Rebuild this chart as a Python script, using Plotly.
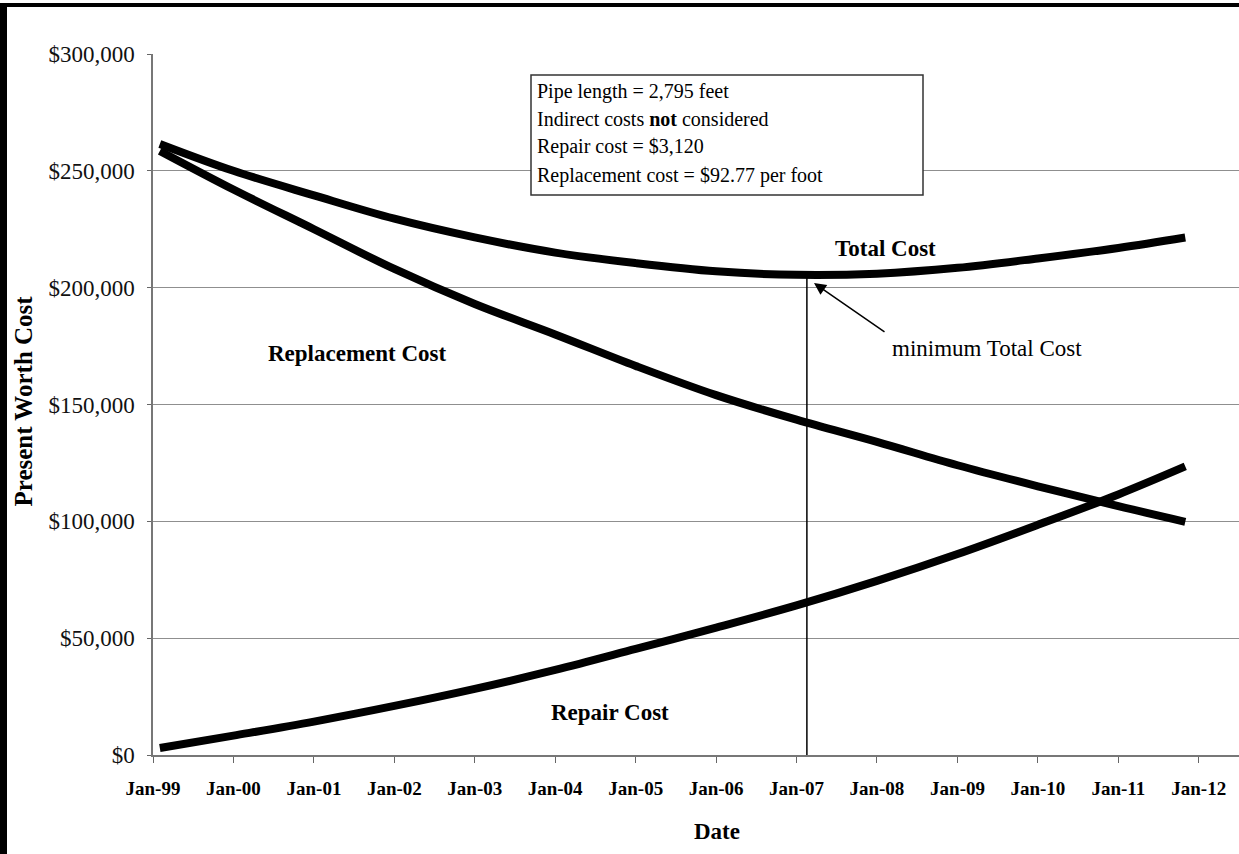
import plotly.graph_objects as go

# ---- data ----
dates = ["1999-02-01", "2000-01-01", "2001-01-01", "2002-01-01", "2003-01-01",
         "2004-01-01", "2005-01-01", "2006-01-01", "2007-01-01", "2008-01-01",
         "2009-01-01", "2010-01-01", "2011-01-01", "2011-11-01"]
replacement_cost = [258500, 242000, 225000, 208000, 193000, 180000, 166500,
                    154000, 143500, 134000, 124000, 115000, 106500, 99800]
repair_cost = [3000, 8300, 14300, 21000, 28300, 36400, 45400,
               54500, 64000, 74500, 86000, 98500, 111500, 123500]
total_cost = [261500, 250000, 239500, 229500, 221500, 215000, 210500,
              207000, 205500, 206000, 208500, 212500, 217000, 221500]

y_ticks = [0, 50000, 100000, 150000, 200000, 250000, 300000]
min_date = "2007-02-17"
min_total = 205000

info_lines = ["Pipe length = 2,795 feet",
              "Indirect costs <b>not</b> considered",
              "Repair cost = $3,120",
              "Replacement cost = $92.77 per foot"]

# ---- layout geometry (reference-image pixels) ----
W, H = 1239, 854
PLOT_LEFT, PLOT_TOP, PLOT_BOTTOM = 153, 54, 755
L, T, B, R = PLOT_LEFT, PLOT_TOP, H - PLOT_BOTTOM, 0
PW, PH = W - L - R, H - T - B


def px(x):
    return (x - PLOT_LEFT) / PW


def py(y):
    return (PLOT_BOTTOM - y) / PH


SERIF = "Liberation Serif"

fig = go.Figure()
for vals in (total_cost, replacement_cost, repair_cost):
    fig.add_trace(go.Scatter(x=dates, y=vals, mode="lines",
                             line=dict(color="black", width=8, shape="spline"),
                             showlegend=False, hoverinfo="skip"))

fig.update_layout(
    width=W, height=H, autosize=False,
    margin=dict(l=L, r=R, t=T, b=B, pad=0),
    paper_bgcolor="white", plot_bgcolor="white",
    font=dict(family=SERIF, color="black"),
    showlegend=False,
)

fig.update_xaxes(
    type="date", range=["1999-01-01", "2012-07-02"],
    tick0="1999-01-01", dtick="M12", tickformat="%b-%y",
    ticks="outside", ticklen=6, tickcolor="#666", tickwidth=1,
    tickfont=dict(family=SERIF, size=19, color="black", weight="bold"),
    ticklabelstandoff=9,
    showgrid=False, showline=True, linecolor="#777", linewidth=1.5,
    zeroline=False,
)
fig.update_yaxes(
    range=[0, 300000], tickvals=y_ticks, tickformat="$,.0f",
    ticks="outside", ticklen=4, tickcolor="#666",
    tickfont=dict(family=SERIF, size=23, color="#111"),
    ticklabelstandoff=8,
    showgrid=True, gridcolor="#8f8f8f", gridwidth=1.2,
    showline=True, linecolor="#777", linewidth=1.5, zeroline=False,
)

shapes = [
    # minimum total cost marker line
    dict(type="line", xref="x", yref="y", x0=min_date, x1=min_date,
         y0=0, y1=min_total, line=dict(color="black", width=1.5)),
    # info box
    dict(type="rect", xref="paper", yref="paper",
         x0=px(531), x1=px(923), y0=py(195), y1=py(75),
         line=dict(color="#333", width=1.5), fillcolor="white"),
    # scan frame: left and top borders
    dict(type="line", xref="paper", yref="paper",
         x0=px(3.5), x1=px(3.5), y0=py(3), y1=py(860),
         line=dict(color="black", width=7)),
    dict(type="line", xref="paper", yref="paper",
         x0=px(0), x1=px(1245), y0=py(5), y1=py(5),
         line=dict(color="black", width=4)),
]
fig.update_layout(shapes=shapes)


def label(x, y, text, size, **kw):
    d = dict(xref="paper", yref="paper", x=px(x), y=py(y), text=text,
             showarrow=False, xanchor="center", yanchor="middle",
             font=dict(family=SERIF, size=size, color="black"))
    d.update(kw)
    return d


ann = []
for i, line in enumerate(info_lines):
    ann.append(label(535, [91.7, 119.3, 146.7, 175][i], line, 20, xanchor="left"))
ann.append(label(885, 248, "<b>Total Cost</b>", 23))
ann.append(label(357, 353, "<b>Replacement Cost</b>", 23))
ann.append(label(610, 712, "<b>Repair Cost</b>", 23))
ann.append(label(987, 348, "minimum Total Cost", 23))
# arrow to minimum
ann.append(dict(xref="paper", yref="paper", x=px(814), y=py(283),
                ax=72, ay=50, axref="pixel", ayref="pixel",
                text="", showarrow=True, arrowhead=2, arrowsize=1.6,
                arrowwidth=1.5, arrowcolor="black"))
# axis titles
ann.append(label(717, 831, "<b>Date</b>", 23))
ann.append(label(23, 401.5, "<b>Present Worth Cost</b>", 25, textangle=-90))
fig.update_layout(annotations=ann)

fig.write_html("out.html",
               config={"displayModeBar": False},
               post_script="document.body.style.margin='0';"
                           "document.body.style.overflow='hidden';")
